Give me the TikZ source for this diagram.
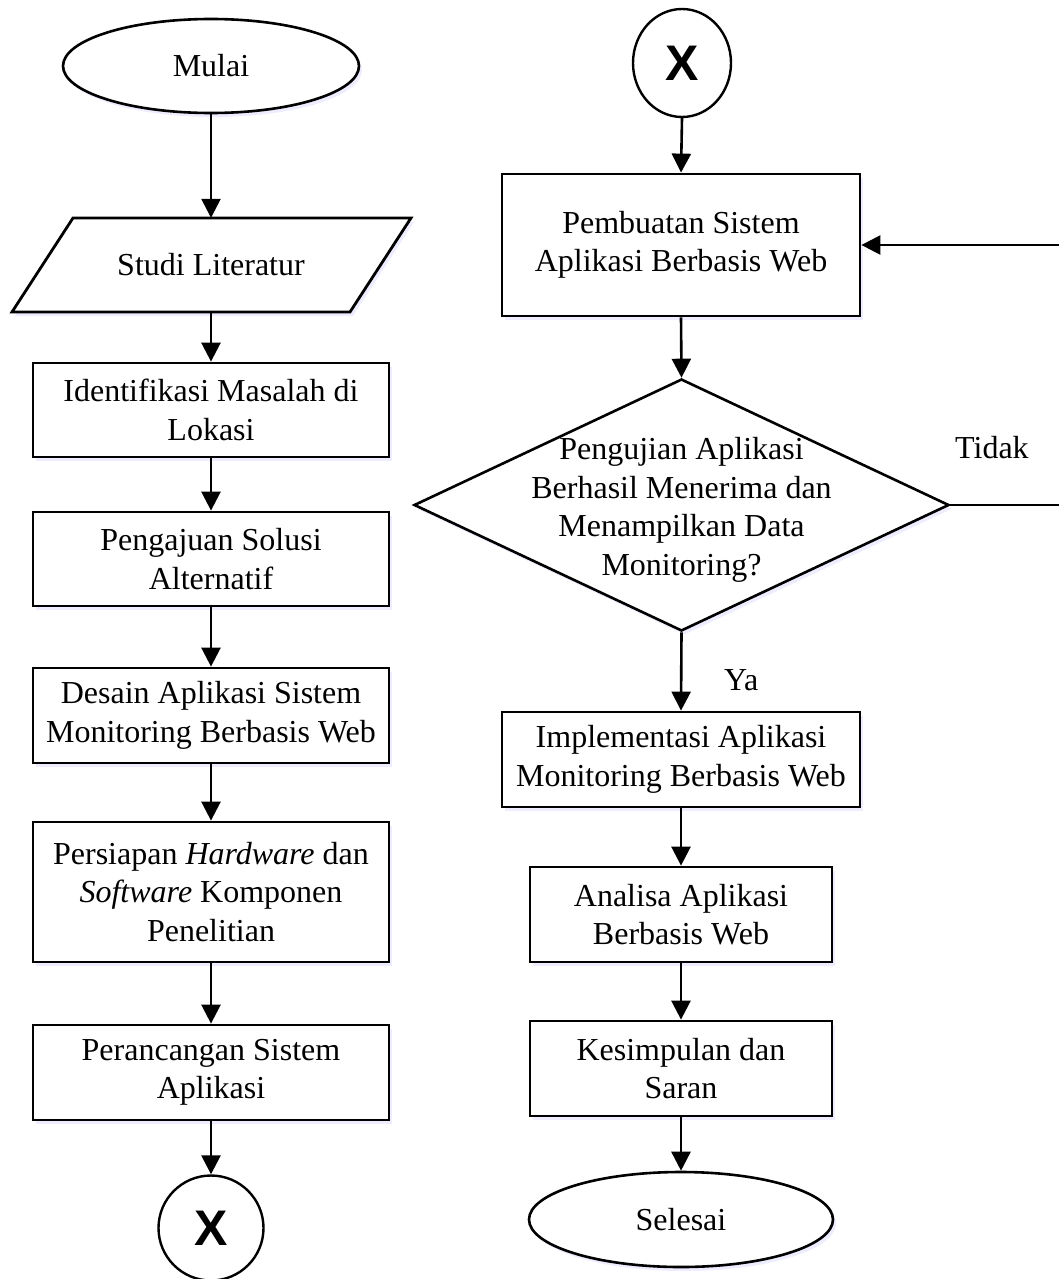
\documentclass[tikz,border=0pt]{standalone}
\usepackage{fontspec}
\setmainfont{Liberation Serif}
\newfontfamily\xfont{Liberation Sans}
\usetikzlibrary{shapes.geometric,arrows.meta,shadows}
\begin{document}
\begin{tikzpicture}[x=1pt,y=-1pt,
  every node/.style={font=\fontsize{32}{38.5}\selectfont},
  shad/.style={drop shadow={shadow xshift=3pt,shadow yshift=-4pt,fill=blue!10,opacity=0.7}},
  procbox/.style={draw,line width=2.8pt,rectangle,fill=white,shad,inner sep=0pt,align=center},
  termbox/.style={draw,line width=2.6pt,ellipse,fill=white,shad,inner sep=0pt},
  conn/.style={draw,line width=2.4pt,circle,fill=white,inner sep=0pt,font=\xfont\bfseries\fontsize{50}{50}\selectfont},
  decbox/.style={draw,line width=2.6pt,diamond,fill=white,shad,inner sep=0pt},
  arr/.style={line width=2.6pt,-{Triangle[length=19pt,width=19pt]}},
  ln/.style={line width=2.6pt}
]
\useasboundingbox (0,0) rectangle (1059,1279);
% left column
\node[termbox,minimum width=296pt,minimum height=94pt] (mulai) at (211,66) {Mulai};
\fill[blue!10,opacity=0.7] (76,222) -- (414,222) -- (353,316) -- (15,316) -- cycle;
\draw[line width=2.8pt,fill=white] (73,218) -- (411,218) -- (350,312) -- (12,312) -- cycle;
\node[minimum width=338pt,minimum height=94pt,inner sep=0pt] (studi) at (211,265) {Studi Literatur};
\node[procbox,minimum width=356pt,minimum height=94pt] (ident) at (211,410) {Identifikasi Masalah di\\Lokasi};
\node[procbox,minimum width=356pt,minimum height=94pt] (peng) at (211,559) {Pengajuan Solusi\\Alternatif};
\node[procbox,minimum width=356pt,minimum height=95pt] (desain) at (211,715.5) {Desain Aplikasi Sistem\\Monitoring Berbasis Web};
\node[procbox,minimum width=356pt,minimum height=140pt] (pers) at (211,892) {Persiapan \textit{Hardware} dan\\\textit{Software} Komponen\\Penelitian};
\node[procbox,minimum width=356pt,minimum height=95pt] (peranc) at (211,1072.5) {Perancangan Sistem\\Aplikasi};
\node[conn,minimum width=105pt] (xl) at (211,1228) {X};
% right column
\node[conn,ellipse,minimum width=98pt,minimum height=108pt] (xt) at (682,63) {X};
\node[procbox,minimum width=358pt,minimum height=142pt] (pemb) at (681,245) {Pembuatan Sistem\\Aplikasi Berbasis Web};
\node[decbox,minimum width=535pt,minimum height=252pt] (dec) at (681.5,505) {};
\node[align=center,inner sep=0pt] (dectext) at (681.5,510) {Pengujian Aplikasi\\Berhasil Menerima dan\\Menampilkan Data\\Monitoring?};
\node[procbox,minimum width=358pt,minimum height=95pt] (impl) at (681,759.5) {Implementasi Aplikasi\\Monitoring Berbasis Web};
\node[procbox,minimum width=302pt,minimum height=95pt] (anal) at (681,914.5) {Analisa Aplikasi\\Berbasis Web};
\node[procbox,minimum width=302pt,minimum height=95pt] (kesim) at (681,1068.5) {Kesimpulan dan\\Saran};
\node[termbox,minimum width=304pt,minimum height=95pt] (sel) at (681,1219.5) {Selesai};
\node[anchor=base west,inner sep=0pt] (tidak) at (955,458) {Tidak};
\node[anchor=base west,inner sep=0pt] (ya) at (724,690) {Ya};
\coordinate (fb) at (1075,505);
% connectors
\draw[arr] (mulai.south) -- (studi.north);
\draw[arr] (studi.south) -- (ident.north);
\draw[arr] (ident.south) -- (peng.north);
\draw[arr] (peng.south) -- (desain.north);
\draw[arr] (desain.south) -- (pers.north);
\draw[arr] (pers.south) -- (peranc.north);
\draw[arr] (peranc.south) -- (xl.north);
\draw[arr] (xt.south) -- (pemb.north);
\draw[arr] (pemb.south) -- (dec.north);
\draw[arr] (dec.south) -- (impl.north);
\draw[arr] (impl.south) -- (anal.north);
\draw[arr] (anal.south) -- (kesim.north);
\draw[arr] (kesim.south) -- (sel.north);
\draw[arr] (dec.east) -- (fb) |- (pemb.east);
\end{tikzpicture}
\end{document}
